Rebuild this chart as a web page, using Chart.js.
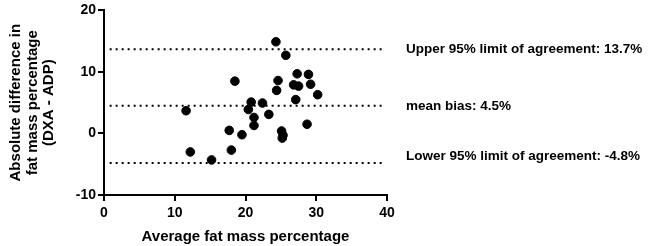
<!DOCTYPE html>
<html>
<head>
<meta charset="utf-8">
<script src="https://cdn.jsdelivr.net/npm/chart.js@4/dist/chart.umd.min.js"></script>
<style>
  html, body { margin: 0; padding: 0; background: #fff; }
  #wrap { width: 649px; height: 246px; }
</style>
</head>
<body>
<div id="wrap"><canvas id="grafico"></canvas></div>
<script>
const promedios = [24.3, 25.7, 27.3, 28.9, 18.5, 24.6, 26.8, 27.5, 29.2, 24.4,
    30.2, 27.1, 20.8, 22.4, 20.4, 11.6, 23.3, 21.2, 21.2, 28.7,
    17.7, 25.1, 19.5, 25.3, 25.2, 12.2, 18.0, 15.2];
const diferencias = [14.9, 12.7, 9.7, 9.6, 8.5, 8.6, 7.9, 7.7, 8.0, 7.0,
    6.3, 5.5, 5.1, 4.95, 3.9, 3.7, 3.1, 2.6, 1.3, 1.5,
    0.5, 0.4, -0.2, -0.3, -0.75, -3.0, -2.7, -4.3];

const limites = [13.7, 4.5, -4.8];
const textosLimites = [
    "Upper 95% limit of agreement: 13.7%",
    "mean bias: 4.5%",
    "Lower 95% limit of agreement: -4.8%",
];
const desplazamientoTexto = [0, 1, -7];

const ticksX = [0, 10, 20, 30, 40];
const ticksY = [-10, 0, 10, 20];

const fuente = "'Liberation Sans', Arial, sans-serif";

const datasetsLimites = limites.map((valor) => {
    return {
        type: "line",
        data: [{ x: 0.8, y: valor }, { x: 39.6, y: valor }],
        borderColor: "#000",
        borderWidth: 2,
        borderDash: [2, 4],
        pointRadius: 0,
        fill: false,
    };
});

const textosDerecha = {
    id: "textosDerecha",
    afterDraw(chart) {
        const ctx = chart.ctx;
        const y = chart.scales.y;
        ctx.save();
        ctx.fillStyle = "#000";
        ctx.font = "bold 13.5px " + fuente;
        ctx.textBaseline = "middle";
        ctx.textAlign = "left";
        limites.forEach((valor, i) => {
            ctx.fillText(textosLimites[i], 406, y.getPixelForValue(valor) + desplazamientoTexto[i]);
        });
        ctx.restore();
    },
};

const configGrafico = {
    type: "scatter",
    data: {
        datasets: [
            {
                data: promedios.map((x, i) => ({ x: x, y: diferencias[i] })),
                backgroundColor: "#000",
                borderColor: "#000",
                pointRadius: 4.3,
            },
            ...datasetsLimites,
        ],
    },
    options: {
        responsive: true,
        maintainAspectRatio: false,
        animation: false,
        layout: {
            padding: { left: 0, right: 262, top: 7, bottom: 0 },
        },
        plugins: {
            legend: { display: false },
            tooltip: { enabled: false },
        },
        scales: {
            x: {
                type: "linear",
                min: 0,
                max: 40,
                afterBuildTicks: (axis) => {
                    axis.ticks = ticksX.map((v) => ({ value: v }));
                },
                afterFit: (axis) => {
                    axis.height = 51;
                },
                border: { color: "#000", width: 2 },
                grid: {
                    drawOnChartArea: false,
                    drawTicks: true,
                    tickLength: 6,
                    color: "#000",
                    lineWidth: 2,
                },
                ticks: {
                    color: "#000",
                    padding: 4,
                    font: { family: fuente, size: 14, weight: "bold" },
                },
                title: {
                    display: true,
                    text: "Average fat mass percentage",
                    color: "#000",
                    padding: { top: 1, bottom: 0 },
                    font: { family: fuente, size: 15, weight: "bold" },
                },
            },
            y: {
                type: "linear",
                min: -10,
                max: 20,
                afterBuildTicks: (axis) => {
                    axis.ticks = ticksY.map((v) => ({ value: v }));
                },
                afterFit: (axis) => {
                    axis.width = 104;
                },
                border: { color: "#000", width: 2 },
                grid: {
                    drawOnChartArea: false,
                    drawTicks: true,
                    tickLength: 6,
                    color: "#000",
                    lineWidth: 2,
                },
                ticks: {
                    color: "#000",
                    padding: 2,
                    font: { family: fuente, size: 14, weight: "bold" },
                },
                title: {
                    display: true,
                    text: ["Absolute difference in", "fat mass percentage", "(DXA - ADP)"],
                    color: "#000",
                    padding: { top: 8, bottom: 0 },
                    font: { family: fuente, size: 15, weight: "bold", lineHeight: 1.1 },
                },
            },
        },
    },
    plugins: [textosDerecha],
};

const grafico = new Chart(document.getElementById("grafico"), configGrafico);
</script>
</body>
</html>
